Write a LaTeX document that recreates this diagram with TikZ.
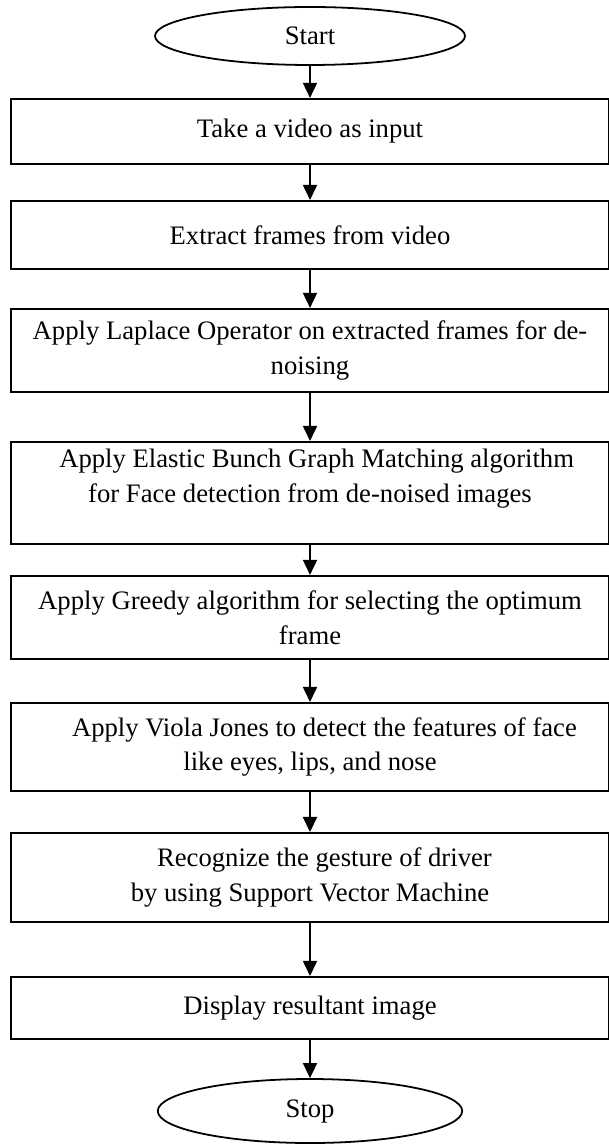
\documentclass[tikz,border=0pt]{standalone}
\usepackage{fontspec}
\setmainfont{Liberation Serif}
\usetikzlibrary{arrows.meta, shapes.geometric}

\begin{document}
\begin{tikzpicture}[x=0.45pt, y=-0.45pt,
  box/.style={draw, line width=0.9pt, minimum width=268.7pt, align=center,
    inner sep=0pt, font=\fontsize{12}{15.7}\selectfont},
  term/.style={draw, ellipse, line width=0.8pt, inner sep=0pt,
    font=\fontsize{12}{15.7}\selectfont},
  flow/.style={-{Triangle[width=6.3pt, length=6.8pt]}, line width=0.9pt}]
  \useasboundingbox (0,0) rectangle (608,1144);

  \node[term, minimum width=139.5pt, minimum height=26.1pt] (start) at (310,36) {Start};
  \node[box, minimum height=29.3pt] (input) at (310,131.5) {Take a video as input};
  \node[box, minimum height=30.6pt] (frames) at (310,235) {Extract frames from video};
  \node[box, minimum height=37.4pt] (laplace) at (310,350.5)
    {Apply Laplace Operator on extracted frames for de-\\noising};
  \node[box, minimum height=45.9pt] (ebgm) at (310,493)
    {\hspace*{6pt}Apply Elastic Bunch Graph Matching algorithm\\
     for Face detection from de-noised images\\ ~};
  \node[box, minimum height=37.4pt] (greedy) at (310,617.5)
    {Apply Greedy algorithm for selecting the optimum\\frame};
  \node[box, minimum height=39.6pt] (viola) at (310,747)
    {\hspace*{13pt}Apply Viola Jones to detect the features of face\\
     like eyes, lips, and nose};
  \node[box, minimum height=40pt] (svm) at (310,877.5)
    {\hspace*{13pt}Recognize the gesture of driver\\
     by using Support Vector Machine};
  \node[box, minimum height=27.9pt] (display) at (310,1008) {Display resultant image};
  \node[term, minimum width=137pt, minimum height=28.8pt] (stop) at (310,1111) {Stop};

  \foreach \a/\b in {start/input, input/frames, frames/laplace, laplace/ebgm,
      ebgm/greedy, greedy/viola, viola/svm, svm/display, display/stop}
    \draw[flow] (\a) -- (\b);
\end{tikzpicture}
\end{document}
